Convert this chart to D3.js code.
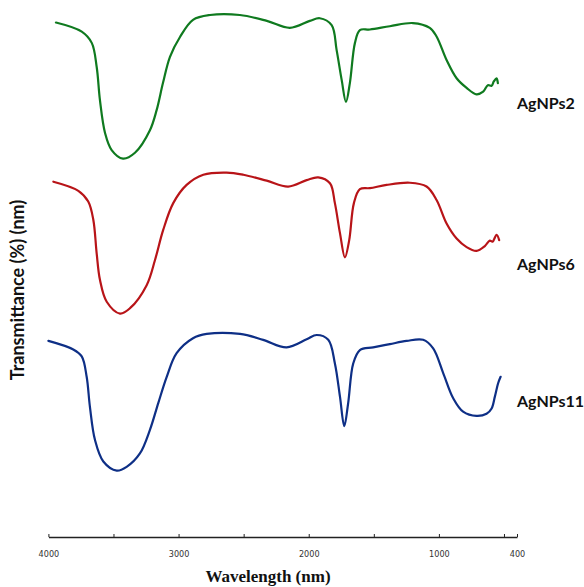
<!DOCTYPE html>
<html>
<head>
<meta charset="utf-8">
<script src="https://cdn.jsdelivr.net/npm/d3@7"></script>
<style>
  body { margin: 0; background: #fff; }
  svg { display: block; }
</style>
</head>
<body>
<svg></svg>
<script>
// wavenumbers (cm-1, axis says nm) and transmittance, arbitrary offset units
var wn2 = [3942, 3744, 3667, 3629, 3604, 3565, 3514, 3427, 3335, 3220, 3168, 3120, 3066, 2989, 2889, 2759, 2529, 2322, 2145, 1992, 1915, 1824, 1786, 1747, 1714, 1684, 1645, 1607, 1530, 1377, 1200, 1070, 1018, 941, 864, 787, 711, 660, 624, 595, 578, 557, 547];
var t2 = [95.8, 94.1, 92.0, 87.5, 81.3, 75.2, 72.0, 70.4, 71.5, 75.7, 79.5, 84.5, 89.4, 93.1, 96.3, 97.2, 97.2, 96.1, 94.8, 96.1, 96.6, 95.3, 90.7, 85.1, 81.0, 84.5, 92.0, 94.4, 94.5, 95.1, 95.7, 94.8, 93.2, 88.8, 85.4, 83.6, 82.4, 82.9, 84.1, 84.0, 84.8, 85.4, 84.5];

var wn6 = [3962, 3770, 3694, 3655, 3629, 3604, 3552, 3450, 3373, 3245, 3181, 3118, 3041, 2938, 2810, 2631, 2503, 2323, 2158, 2016, 1927, 1837, 1799, 1760, 1722, 1689, 1653, 1607, 1530, 1402, 1223, 1095, 1018, 941, 864, 787, 711, 647, 609, 588, 557, 537];
var t6 = [66.1, 64.4, 62.4, 59.0, 52.7, 47.8, 43.7, 41.5, 42.5, 46.8, 51.5, 57.1, 62.1, 65.5, 67.4, 67.8, 67.4, 66.3, 65.2, 66.4, 66.9, 65.8, 62.1, 56.5, 52.0, 55.2, 62.1, 64.7, 64.9, 65.5, 65.9, 65.2, 62.7, 58.3, 55.5, 53.9, 53.2, 54.1, 55.1, 54.9, 56.2, 55.2];

var wn11 = [4000, 3809, 3744, 3706, 3681, 3642, 3578, 3475, 3399, 3297, 3220, 3156, 3091, 3015, 2889, 2784, 2528, 2350, 2170, 2016, 1939, 1850, 1799, 1760, 1727, 1697, 1658, 1607, 1505, 1377, 1248, 1121, 1044, 967, 890, 814, 711, 634, 595, 570, 545, 526];
var t11 = [36.4, 34.8, 33.5, 29.7, 24.1, 17.9, 13.9, 12.2, 12.9, 15.4, 19.8, 24.8, 29.7, 34.1, 36.9, 37.7, 37.7, 36.6, 35.2, 36.7, 37.5, 36.6, 32.2, 26.0, 20.5, 24.8, 32.2, 34.7, 35.2, 35.8, 36.4, 36.6, 35.0, 30.4, 25.7, 23.2, 22.4, 22.8, 23.8, 26.0, 28.5, 29.7];

var seriesNames = ['AgNPs2', 'AgNPs6', 'AgNPs11'];
var seriesColors = ['#0f7a1f', '#b81418', '#0e2f86'];
var labelY = [80.8, 50.6, 25.1];   // label heights in the same units

var tickVals = [4000, 3500, 3000, 2500, 2000, 1500, 1000, 500, 400];
var tickLabels = {4000: '4000', 3000: '3000', 2000: '2000', 1000: '1000', 400: '400'};

var svgWidth = 584, svgHeight = 587;
var svg = d3.select('svg')
    .attr('width', svgWidth)
    .attr('height', svgHeight);

var x = d3.scaleLinear()
    .domain([4000, 400])
    .range([48.4, 517]);

var y = d3.scaleLinear()
    .domain([0, 100])
    .range([536, 0]);

var line = d3.line()
    .x((d) => { return x(d[0]) })
    .y((d) => { return y(d[1]) })
    .curve(d3.curveCatmullRom.alpha(0.5));

var allWn = [wn2, wn6, wn11];
var allT = [t2, t6, t11];

allWn.forEach((wn, i) => {
    var pts = wn.map((w, j) => [w, allT[i][j]]);
    svg.append('path')
        .datum(pts)
        .attr('fill', 'none')
        .attr('stroke', seriesColors[i])
        .attr('stroke-width', 2.2)
        .attr('stroke-linejoin', 'round')
        .attr('stroke-linecap', 'round')
        .attr('d', line);

    svg.append('text')
        .attr('x', 517)
        .attr('y', y(labelY[i]))
        .attr('dy', '0.35em')
        .attr('font-family', 'Lato, "Open Sans", sans-serif')
        .attr('font-weight', 'bold')
        .attr('font-size', 16)
        .attr('fill', '#111')
        .text(seriesNames[i]);
});

// x axis, ticks pointing up
var xAxis = svg.append('g')
    .attr('transform', 'translate(0,537)')
    .call(d3.axisBottom(x)
        .tickValues(tickVals)
        .tickSizeInner(-3)
        .tickSizeOuter(0)
        .tickPadding(14)
        .tickFormat((d) => { return tickLabels[d] || '' }));

xAxis.select('.domain').attr('stroke', '#222').attr('stroke-width', 1.3);
xAxis.selectAll('.tick line').attr('stroke', '#222');
xAxis.selectAll('.tick text')
    .attr('font-family', '"DejaVu Sans Condensed", "Liberation Sans Narrow", sans-serif')
    .attr('font-size', 9)
    .attr('fill', '#333');

svg.append('text')
    .attr('x', 268)
    .attr('y', 582)
    .attr('text-anchor', 'middle')
    .attr('font-family', '"Liberation Serif", "Times New Roman", serif')
    .attr('font-weight', 'bold')
    .attr('font-size', 17)
    .attr('fill', '#111')
    .text('Wavelength (nm)');

svg.append('text')
    .attr('transform', 'translate(24,290) rotate(-90)')
    .attr('text-anchor', 'middle')
    .attr('font-family', 'Lato, "Open Sans", sans-serif')
    .attr('font-weight', 'bold')
    .attr('font-size', 18)
    .attr('fill', '#111')
    .text('Transmittance (%) (nm)');
</script>
</body>
</html>
